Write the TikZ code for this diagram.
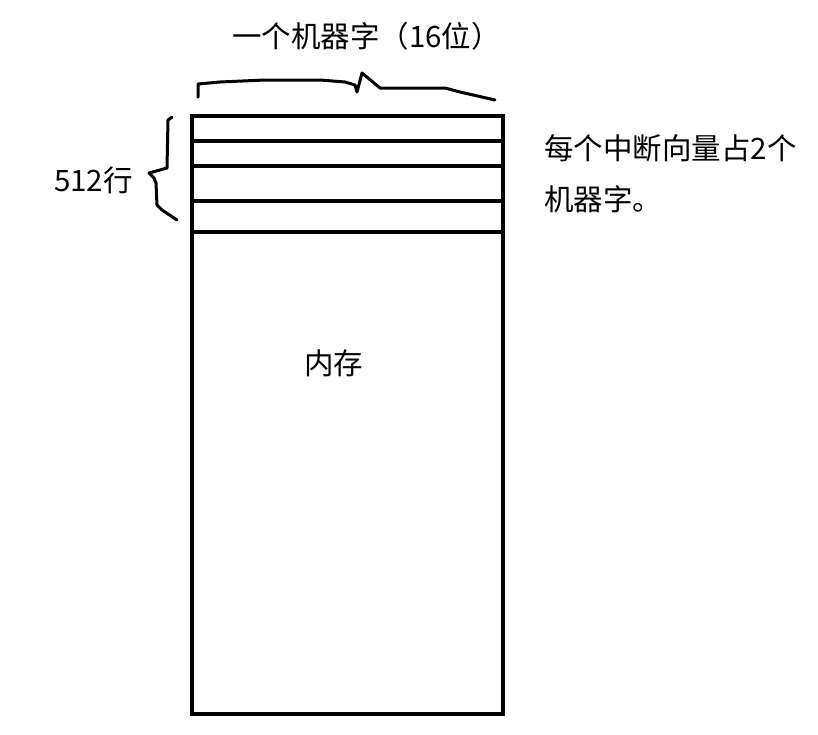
\documentclass[tikz,border=0pt]{standalone}
\usepackage{fontspec}
\newfontfamily\cjk{Noto Sans CJK SC}
\begin{document}
\begin{tikzpicture}[x=1pt,y=-1pt,
  box/.style={line width=4.5pt},
  hand/.style={line width=3pt,line join=round,line cap=round},
  lbl/.style={font=\cjk\fontsize{29.5}{36}\selectfont,inner sep=0pt,anchor=west}]
\useasboundingbox (0,0) rectangle (818,734);
% memory box
\coordinate (tl) at (192,116);
\coordinate (br) at (503,714);
\draw[box] (tl) rectangle (br);
\draw[box] (192,141) -- (503,141);
\draw[box] (192,166) -- (503,166);
\draw[box] (192,201) -- (503,201);
\draw[box] (192,232) -- (503,232);
% top brace
\draw[hand] (198,97) -- (198,84) -- (220,82) -- (265,80) -- (320,80) -- (345,82) -- (355,85) -- (357,92) -- (362,73) -- (380,88) -- (445,88) -- (460,92) -- (495,100);
% left brace
\draw[hand] (172,117) -- (168,120) -- (167,168) -- (160,170) -- (149,173) -- (154,178) -- (156,183) -- (157,205) -- (162,210) -- (177,220);
% labels
\node[lbl] (w) at (232,36) {一个机器字（16位）};
\node[lbl] (r) at (54,180) {512行};
\node[lbl] (v1) at (544,148) {每个中断向量占2个};
\node[lbl] (v2) at (544,199) {机器字。};
\node[lbl] (m) at (304,363) {内存};
\end{tikzpicture}
\end{document}
